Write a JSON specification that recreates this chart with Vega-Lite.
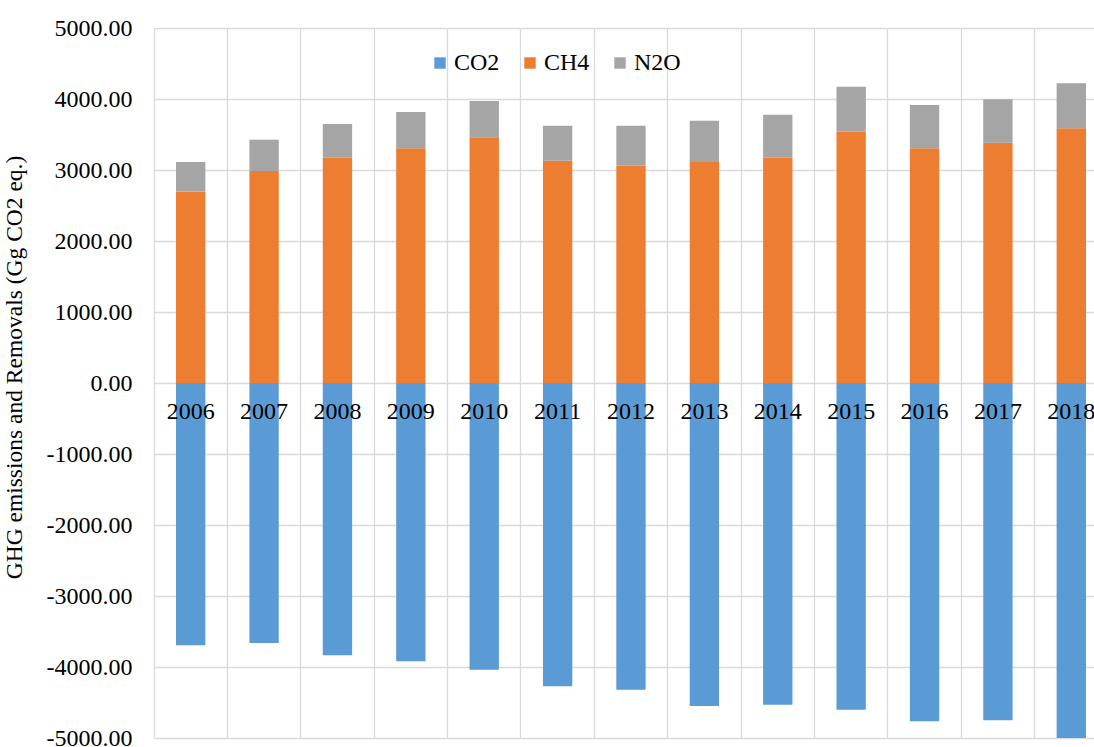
{
  "$schema": "https://vega.github.io/schema/vega-lite/v6.json",
  "width": 940,
  "height": 710,
  "autosize": {"type": "none"},
  "padding": {"left": 154, "top": 28, "right": 0, "bottom": 9},
  "background": "white",
  "config": {
    "view": {"stroke": null},
    "font": "Liberation Serif",
    "legend": {"labelFont": "Liberation Serif"},
    "axis": {"labelFont": "Liberation Serif", "titleFont": "Liberation Serif"}
  },
  "data": {
    "values": [
      {"year": "2006", "gas": "CO2", "value": -3694},
      {"year": "2006", "gas": "CH4", "value": 2695},
      {"year": "2006", "gas": "N2O", "value": 418},
      {"year": "2007", "gas": "CO2", "value": -3662},
      {"year": "2007", "gas": "CH4", "value": 2986},
      {"year": "2007", "gas": "N2O", "value": 441},
      {"year": "2008", "gas": "CO2", "value": -3835},
      {"year": "2008", "gas": "CH4", "value": 3173},
      {"year": "2008", "gas": "N2O", "value": 475},
      {"year": "2009", "gas": "CO2", "value": -3920},
      {"year": "2009", "gas": "CH4", "value": 3305},
      {"year": "2009", "gas": "N2O", "value": 512},
      {"year": "2010", "gas": "CO2", "value": -4038},
      {"year": "2010", "gas": "CH4", "value": 3460},
      {"year": "2010", "gas": "N2O", "value": 512},
      {"year": "2011", "gas": "CO2", "value": -4272},
      {"year": "2011", "gas": "CH4", "value": 3131},
      {"year": "2011", "gas": "N2O", "value": 493},
      {"year": "2012", "gas": "CO2", "value": -4320},
      {"year": "2012", "gas": "CH4", "value": 3061},
      {"year": "2012", "gas": "N2O", "value": 563},
      {"year": "2013", "gas": "CO2", "value": -4549},
      {"year": "2013", "gas": "CH4", "value": 3113},
      {"year": "2013", "gas": "N2O", "value": 582},
      {"year": "2014", "gas": "CO2", "value": -4531},
      {"year": "2014", "gas": "CH4", "value": 3173},
      {"year": "2014", "gas": "N2O", "value": 606},
      {"year": "2015", "gas": "CO2", "value": -4601},
      {"year": "2015", "gas": "CH4", "value": 3540},
      {"year": "2015", "gas": "N2O", "value": 634},
      {"year": "2016", "gas": "CO2", "value": -4765},
      {"year": "2016", "gas": "CH4", "value": 3305},
      {"year": "2016", "gas": "N2O", "value": 610},
      {"year": "2017", "gas": "CO2", "value": -4751},
      {"year": "2017", "gas": "CH4", "value": 3385},
      {"year": "2017", "gas": "N2O", "value": 610},
      {"year": "2018", "gas": "CO2", "value": -5000},
      {"year": "2018", "gas": "CH4", "value": 3587},
      {"year": "2018", "gas": "N2O", "value": 634}
    ]
  },
  "encoding": {
    "x": {
      "field": "year",
      "type": "ordinal",
      "scale": {"range": [0, 954], "paddingInner": 0, "paddingOuter": 0},
      "axis": {
        "title": null,
        "labels": false,
        "ticks": false,
        "domain": false,
        "grid": true,
        "bandPosition": 0,
        "gridColor": "#D9D9D9",
        "gridWidth": 1.3
      }
    }
  },
  "layer": [
    {
      "mark": {"type": "bar", "width": {"band": 0.4}, "clip": false},
      "encoding": {
        "y": {
          "field": "value",
          "type": "quantitative",
          "stack": "zero",
          "scale": {"domain": [-5000, 5000], "nice": false, "zero": false},
          "axis": {
            "values": [-5000, -4000, -3000, -2000, -1000, 0, 1000, 2000, 3000, 4000, 5000],
            "labelExpr": "(datum.value < 0 ? '-' : '') + format(abs(datum.value), '.2f')",
            "labelFont": "Liberation Serif",
            "labelFontSize": 24,
            "labelColor": "black",
            "labelPadding": 22,
            "ticks": false,
            "domain": false,
            "gridColor": "#D9D9D9",
            "gridWidth": 1.3,
            "title": "GHG emissions and Removals (Gg CO2 eq.)",
            "titleFont": "Liberation Serif",
            "titleFontSize": 23.5,
            "titleFontWeight": "normal",
            "titleColor": "black",
            "titleAngle": -90,
            "titleX": -133,
            "titleY": 339,
            "titleAlign": "center",
            "titleBaseline": "alphabetic"
          }
        },
        "order": {"field": "gas", "sort": "ascending"},
        "color": {
          "field": "gas",
          "type": "nominal",
          "scale": {
            "domain": ["CO2", "CH4", "N2O"],
            "range": ["#5B9BD5", "#ED7D31", "#A5A5A5"]
          },
          "legend": {
            "title": null,
            "orient": "none",
            "direction": "horizontal",
            "legendX": 274,
            "legendY": 23,
            "symbolType": "square",
            "symbolSize": 130,
            "symbolStrokeWidth": 0,
            "symbolOpacity": 1,
            "labelFont": "Liberation Serif",
            "labelFontSize": 24,
            "labelColor": "black",
            "labelOffset": 2,
            "columnPadding": 18
          }
        }
      }
    },
    {
      "transform": [{"filter": "datum.gas === 'CO2'"}],
      "mark": {
        "type": "text",
        "font": "Liberation Serif",
        "fontSize": 24,
        "color": "black",
        "baseline": "middle",
        "align": "center",
        "dy": 29,
        "clip": false
      },
      "encoding": {
        "y": {"datum": 0, "type": "quantitative"},
        "text": {"field": "year", "type": "nominal"}
      }
    }
  ]
}
